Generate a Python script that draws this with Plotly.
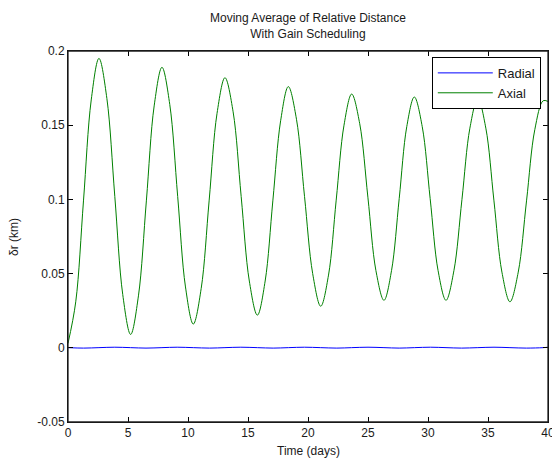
import plotly.graph_objects as go

# Axial component (km)
axial_t = [0.0, 0.645, 1.29, 1.935, 2.58, 3.24, 3.90, 4.56, 5.22, 5.87, 6.53, 7.18, 7.83,
           8.48, 9.14, 9.79, 10.44, 11.10, 11.76, 12.42, 13.08, 13.76, 14.43, 15.11, 15.78,
           16.43, 17.07, 17.72, 18.36, 19.04, 19.71, 20.39, 21.06, 21.71, 22.35, 23.0, 23.64,
           24.31, 24.99, 25.66, 26.33, 26.96, 27.60, 28.23, 28.86, 29.52, 30.18, 30.84, 31.5,
           32.16, 32.83, 33.49, 34.15, 34.82, 35.49, 36.16, 36.83, 37.52, 38.21, 38.90, 39.6, 40.0]
axial_v = [0.003, 0.031, 0.099, 0.167, 0.195, 0.168, 0.102, 0.036, 0.009, 0.035, 0.099, 0.163, 0.189,
           0.164, 0.102, 0.041, 0.016, 0.040, 0.099, 0.158, 0.182, 0.159, 0.102, 0.045, 0.022,
           0.045, 0.099, 0.153, 0.176, 0.154, 0.102, 0.050, 0.028, 0.049, 0.0995, 0.150, 0.171,
           0.151, 0.1015, 0.052, 0.032, 0.052, 0.1005, 0.149, 0.169, 0.149, 0.1005, 0.052, 0.032,
           0.052, 0.100, 0.148, 0.168, 0.148, 0.0995, 0.051, 0.031, 0.051, 0.099, 0.147, 0.1665, 0.166]

# Radial component (km): tiny ripple around zero
radial_t = [0.0, 1.3, 2.58, 3.9, 5.22, 6.5, 7.83, 9.1, 10.44, 11.8, 13.08, 14.4, 15.78,
            17.1, 18.36, 19.7, 21.06, 22.4, 23.64, 25.0, 26.33, 27.6, 28.86, 30.2, 31.5,
            32.8, 34.15, 35.5, 36.83, 38.2, 39.6, 40.0]
radial_v = [0.0001, -0.0002, 0.0001, 0.0004, 0.0001, -0.0002, 0.0001, 0.0004, 0.0001, -0.0002,
            0.0001, 0.0004, 0.0001, -0.0002, 0.0001, 0.0004, 0.0001, -0.0002, 0.0001, 0.0004,
            0.0001, -0.0002, 0.0001, 0.0004, 0.0001, -0.0002, 0.0001, 0.0004, 0.0001, -0.0002,
            0.0001, 0.0004]

x_ticks = [0, 5, 10, 15, 20, 25, 30, 35, 40]
y_ticks = [-0.05, 0, 0.05, 0.1, 0.15, 0.2]
y_tick_labels = ["-0.05", "0", "0.05", "0.1", "0.15", "0.2"]

FONT = "Liberation Sans, Arial, sans-serif"
TXT = "#1a1a1a"

fig = go.Figure()
fig.add_trace(go.Scatter(x=radial_t, y=radial_v, mode="lines", name="Radial",
                         line=dict(color="rgb(0,0,255)", width=1, shape="spline")))
fig.add_trace(go.Scatter(x=axial_t, y=axial_v, mode="lines", name="Axial",
                         line=dict(color="rgb(0,128,0)", width=1, shape="spline")))

fig.update_layout(
    width=552, height=461,
    margin=dict(l=68, r=4, t=51, b=39, autoexpand=False),
    paper_bgcolor="white", plot_bgcolor="white",
    font=dict(family=FONT, size=12, color=TXT),
    showlegend=True,
    legend=dict(x=0.985, xanchor="right", y=0.984, yanchor="top",
                bgcolor="white", bordercolor="black", borderwidth=1,
                font=dict(family=FONT, size=13, color=TXT),
                tracegroupgap=0, itemwidth=55),
    annotations=[
        dict(text="Moving Average of Relative Distance<br>With Gain Scheduling",
             xref="paper", yref="paper", x=0.5, y=1.0687, xanchor="center", yanchor="middle",
             showarrow=False, font=dict(family=FONT, size=12, color=TXT)),
        dict(text="Time (days)", xref="paper", yref="paper", x=0.5, y=-0.078,
             xanchor="center", yanchor="middle", showarrow=False,
             font=dict(family=FONT, size=12, color=TXT)),
        dict(text="δr (km)", xref="paper", yref="paper", x=-0.1125, y=0.4987,
             xanchor="center", yanchor="middle", textangle=-90, showarrow=False,
             font=dict(family=FONT, size=12, color=TXT)),
    ],
    shapes=[dict(type="rect", xref="paper", yref="paper", x0=0, y0=0, x1=1, y1=1,
                 line=dict(color="#222222", width=1.3), fillcolor="rgba(0,0,0,0)", layer="above")],
)
fig.update_xaxes(range=[0, 40], tickvals=x_ticks, ticktext=[str(v) for v in x_ticks],
                 ticks="inside", ticklen=5, tickwidth=1, tickcolor="black",
                 showline=True, linecolor="black",
                 linewidth=1, mirror="allticks", showgrid=False, zeroline=False, automargin=False,
                 ticklabeloverflow="allow", tickfont=dict(size=12))
fig.update_yaxes(range=[-0.05, 0.2], tickvals=y_ticks, ticktext=y_tick_labels,
                 ticks="inside", ticklen=5, tickwidth=1, tickcolor="black",
                 showline=True, linecolor="black",
                 linewidth=1, mirror="allticks", showgrid=False, zeroline=False, automargin=False,
                 ticklabeloverflow="allow", tickfont=dict(size=12))

# remove the browser's default 8px body margin so the 552x461 figure fills the window
fig.write_html("out.html", config={"displayModeBar": False},
               post_script="document.body.style.margin='0';document.body.style.overflow='hidden';")
